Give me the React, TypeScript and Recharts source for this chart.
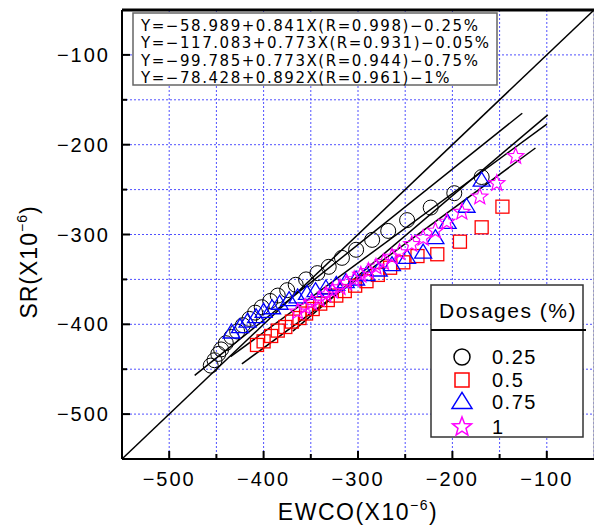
import React from "react";
import {
  ComposedChart, Scatter, XAxis, YAxis, CartesianGrid,
  ReferenceLine,
} from "recharts";

// 0.25 % (circles)
const circleX = [-456, -452, -448, -445, -440, -434, -428, -422, -415, -409, -402, -393, -385, -375, -366, -355, -343, -331, -317, -302, -285, -268, -248, -223, -198, -169];
const circleY = [-446, -440, -433, -428, -421, -414, -408, -401, -394, -387, -381, -374, -368, -362, -356, -350, -343, -336, -326, -317, -306, -296, -284, -270, -254, -236];
// 0.5 % (squares)
const squareX = [-407, -400, -392, -385, -377, -370, -362, -355, -348, -340, -332, -323, -314, -303, -291, -279, -266, -252, -237, -216, -192, -169, -147];
const squareY = [-423, -419, -413, -407, -403, -397, -393, -388, -383, -377, -373, -368, -363, -357, -352, -345, -337, -331, -324, -322, -308, -292, -269];
// 0.75 % (triangles)
const triangleX = [-434, -425, -417, -408, -400, -391, -383, -373, -364, -354, -345, -334, -323, -313, -302, -291, -278, -264, -248, -231, -218, -205, -185, -169];
const triangleY = [-409, -403, -397, -392, -386, -382, -377, -373, -370, -366, -363, -360, -356, -353, -350, -345, -340, -334, -326, -320, -304, -287, -269, -240];
// 1 % (stars)
const starX = [-364, -356, -349, -341, -334, -327, -319, -312, -304, -297, -289, -281, -273, -264, -256, -243, -231, -218, -206, -190, -171, -153, -133];
const starY = [-386, -381, -376, -372, -367, -363, -359, -354, -350, -345, -341, -336, -331, -325, -320, -311, -304, -296, -286, -275, -258, -243, -213];

// linear fits shown in the box
const fitA = [-58.989, -117.083, -99.785, -78.428];
const fitB = [0.841, 0.773, 0.773, 0.892];
const fitR = ["0.998", "0.931", "0.944", "0.961"];
const fitTail = ["0.25", "0.05", "0.75", "1"];
const fitFrom = [-473, -423, -435, -369];
const fitTo = [-126, -112, -100, -99];

const dosages = ["0.25", "0.5", "0.75", "1"];
const axisTicks = [-550, -500, -450, -400, -350, -300, -250, -200, -150, -100, -50];
const labelTicks = [-500, -400, -300, -200, -100];

const FONT = "'Liberation Sans', Arial, sans-serif";
const GRID = "#5050ff";

const toPts = (xs: number[], ys: number[]) => xs.map((x, i) => ({ x, y: ys[i] }));

const fmt = (v: number) => (v < 0 ? "\u2212" + Math.abs(v) : String(v));

function XTick(props: any) {
  const { x, y, payload } = props;
  const v = payload.value;
  const major = v % 100 === 0;
  if (v === -550 || v === -50) return null;
  return (
    <g>
      <line x1={x} x2={x} y1={y} y2={y - (major ? 8 : 5)} stroke="#000" strokeWidth={2} />
      {labelTicks.includes(v) && (
        <text x={x} y={y + 27} textAnchor="middle" fontSize={20} fontFamily={FONT} letterSpacing={2} fill="#000">
          {fmt(v)}
        </text>
      )}
    </g>
  );
}

function YTick(props: any) {
  const { x, y, payload } = props;
  const v = payload.value;
  const major = v % 100 === 0;
  if (v === -550 || v === -50) return null;
  return (
    <g>
      <line x1={x} x2={x + (major ? 8 : 5)} y1={y} y2={y} stroke="#000" strokeWidth={2} />
      {labelTicks.includes(v) && (
        <text x={x - 12} y={y + 7} textAnchor="end" fontSize={20} fontFamily={FONT} letterSpacing={2} fill="#000">
          {fmt(v)}
        </text>
      )}
    </g>
  );
}

const circleShape = (p: any) => (
  <circle cx={p.cx} cy={p.cy} r={7.5} fill="none" stroke="#000" strokeWidth={1} />
);
const squareShape = (p: any) => (
  <rect x={p.cx - 6.5} y={p.cy - 6.5} width={13} height={13} fill="none" stroke="#ff0000" strokeWidth={1.3} />
);
const triPath = (cx: number, cy: number, w: number, h: number) =>
  `M${cx},${cy - h * 0.6}L${cx + w / 2},${cy + h * 0.4}L${cx - w / 2},${cy + h * 0.4}Z`;
const triangleShape = (p: any) => (
  <path d={triPath(p.cx, p.cy, 17, 14)} fill="none" stroke="#0000ff" strokeWidth={1.3} />
);
const starPath = (cx: number, cy: number, ro: number, ri: number) => {
  let d = "";
  for (let i = 0; i < 10; i++) {
    const r = i % 2 === 0 ? ro : ri;
    const a = -Math.PI / 2 + (i * Math.PI) / 5;
    d += (i === 0 ? "M" : "L") + (cx + r * Math.cos(a)).toFixed(2) + "," + (cy + r * Math.sin(a)).toFixed(2);
  }
  return d + "Z";
};
const starShape = (p: any) => (
  <path d={starPath(p.cx, p.cy, 8.5, 3.6)} fill="none" stroke="#ff00ff" strokeWidth={1.2} />
);

export default function App() {
  const eqs = fitA.map(
    (a, i) => `Y=\u2212${Math.abs(a).toFixed(3)}+${fitB[i].toFixed(3)}X(R=${fitR[i]})\u2212${fitTail[i]}%`
  );
  return (
    <div style={{ position: "relative", width: 594, height: 528, background: "#fff" }}>
      <style>{`body{margin:0}`}</style>
      <ComposedChart width={594} height={528} margin={{ top: 10, right: 0, left: 0, bottom: 0 }}>
        <CartesianGrid stroke={GRID} strokeDasharray="2 2" />
        <XAxis
          type="number" dataKey="x" domain={[-550, -50]} ticks={axisTicks} interval={0}
          height={69} tickLine={false} tickSize={0} tickMargin={0} tick={<XTick />}
          axisLine={{ stroke: "#000", strokeWidth: 2 }} allowDataOverflow
        />
        <YAxis
          type="number" dataKey="y" domain={[-550, -50]} ticks={axisTicks} interval={0}
          width={122} tickLine={false} tickSize={0} tickMargin={0} tick={<YTick />}
          axisLine={{ stroke: "#000", strokeWidth: 2 }} allowDataOverflow
        />
        <ReferenceLine y={-50} stroke="#000" strokeWidth={3} />
        <ReferenceLine x={-50} stroke="#888" strokeWidth={1} />
        <Scatter data={toPts(circleX, circleY)} shape={circleShape} isAnimationActive={false} />
        <Scatter data={toPts(squareX, squareY)} shape={squareShape} isAnimationActive={false} />
        <Scatter data={toPts(triangleX, triangleY)} shape={triangleShape} isAnimationActive={false} />
        <Scatter data={toPts(starX, starY)} shape={starShape} isAnimationActive={false} />
        <ReferenceLine segment={[{ x: -550, y: -550 }, { x: -50, y: -50 }]} stroke="#000" strokeWidth={1.5} />
        {fitA.map((a, i) => (
          <ReferenceLine
            key={i}
            segment={[
              { x: fitFrom[i], y: a + fitB[i] * fitFrom[i] },
              { x: fitTo[i], y: a + fitB[i] * fitTo[i] },
            ]}
            stroke="#000"
            strokeWidth={1.5}
          />
        ))}
      </ComposedChart>

      <svg width={594} height={528} style={{ position: "absolute", left: 0, top: 0, pointerEvents: "none" }}>
        <rect x={133} y={13} width={364} height={72} fill="#fff" stroke="#666" strokeWidth={1.5} />
        {eqs.map((t, i) => (
          <text key={i} x={141} y={31 + i * 17.3} fontSize={15} fontFamily="'DejaVu Sans', sans-serif" letterSpacing={1.55} fill="#000">
            {t}
          </text>
        ))}

        <rect x={431} y={285} width={152} height={152} fill="#fff" stroke="#333" strokeWidth={1.5} />
        <line x1={431} x2={586} y1={330} y2={330} stroke="#000" strokeWidth={2} />
        <text x={508} y={318} textAnchor="middle" fontSize={21} fontFamily={FONT} letterSpacing={1.5} fill="#000">
          Dosages (%)
        </text>
        {dosages.map((d, i) => {
          const cy = [357, 380, 402, 427][i];
          const sym = [
            <circle key="c" cx={462} cy={cy} r={8} fill="none" stroke="#000" strokeWidth={1.5} />,
            <rect key="s" x={455} y={cy - 7} width={14} height={14} fill="none" stroke="#ff0000" strokeWidth={1.5} />,
            <path key="t" d={triPath(462, cy, 20, 16)} fill="none" stroke="#0000ff" strokeWidth={1.5} />,
            <path key="st" d={starPath(462, cy, 10, 4.2)} fill="none" stroke="#ff00ff" strokeWidth={1.5} />,
          ][i];
          return (
            <g key={d}>
              {sym}
              <text x={492} y={cy + 7} fontSize={20} fontFamily={FONT} letterSpacing={1.5} fill="#000">{d}</text>
            </g>
          );
        })}

        <text x={358} y={520} textAnchor="middle" fontSize={23} fontFamily={FONT} letterSpacing={1.5} fill="#000">
          EWCO(X10<tspan fontSize={14} dy={-10}>{"\u22126"}</tspan><tspan dy={10}>)</tspan>
        </text>
        <text transform="translate(37,262) rotate(-90)" textAnchor="middle" fontSize={23} fontFamily={FONT} letterSpacing={1} fill="#000">
          SR(X10<tspan fontSize={14} dy={-10}>{"\u22126"}</tspan><tspan dy={10}>)</tspan>
        </text>
      </svg>
    </div>
  );
}
